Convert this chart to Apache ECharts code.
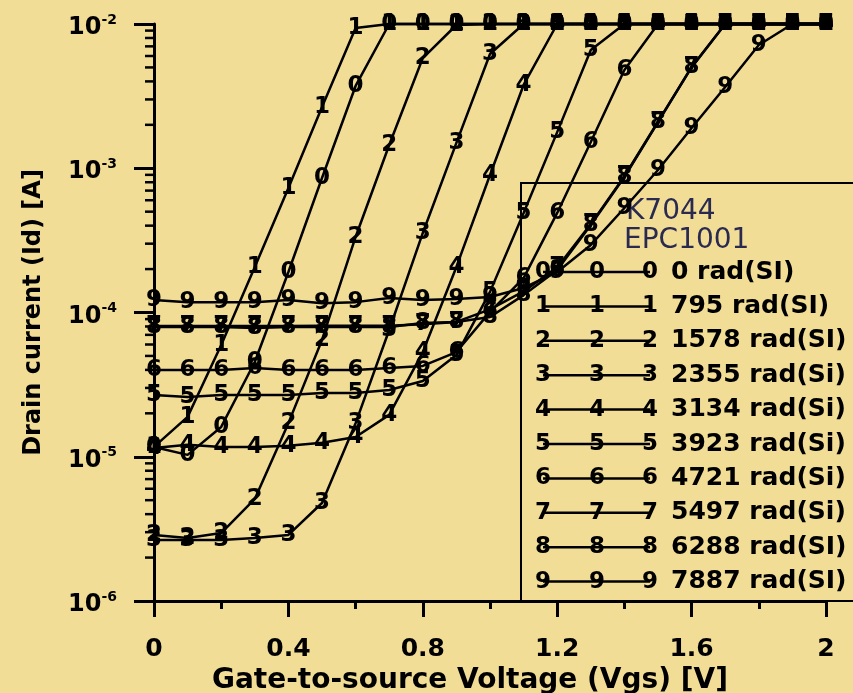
<!DOCTYPE html>
<html>
<head>
<meta charset="utf-8">
<script src="https://cdn.jsdelivr.net/npm/echarts@6/dist/echarts.min.js"></script>
<style>
  html, body { margin: 0; padding: 0; background: #f2dd97; }
  #chart { width: 853px; height: 693px; }
</style>
</head>
<body>
<div id="chart"></div>
<script>
// Gate-to-source voltage sweep (V)
const vgs = [0, 0.1, 0.2, 0.3, 0.4, 0.5, 0.6, 0.7, 0.8, 0.9, 1.0, 1.1, 1.2, 1.3, 1.4, 1.5, 1.6, 1.7, 1.8, 1.9, 2.0];

// Drain current (A) per total dose
const id0 = [1.17e-5, 1.03e-5, 1.61e-5, 4.54e-5, 1.91e-4, 8.56e-4, 3.72e-3, 0.01, 0.01, 0.01, 0.01, 0.01, 0.01, 0.01, 0.01, 0.01, 0.01, 0.01, 0.01, 0.01, 0.01];
const id1 = [1.17e-5, 1.89e-5, 5.95e-5, 2.07e-4, 7.30e-4, 2.66e-3, 9.38e-3, 0.01, 0.01, 0.01, 0.01, 0.01, 0.01, 0.01, 0.01, 0.01, 0.01, 0.01, 0.01, 0.01, 0.01];
const id2 = [2.87e-6, 2.73e-6, 2.96e-6, 5.10e-6, 1.71e-5, 6.45e-5, 3.34e-4, 1.45e-3, 5.81e-3, 9.84e-3, 0.01, 0.01, 0.01, 0.01, 0.01, 0.01, 0.01, 0.01, 0.01, 0.01, 0.01];
const id3 = [2.65e-6, 2.65e-6, 2.65e-6, 2.73e-6, 2.87e-6, 4.78e-6, 1.71e-5, 7.56e-5, 3.56e-4, 1.50e-3, 6.19e-3, 0.01, 0.01, 0.01, 0.01, 0.01, 0.01, 0.01, 0.01, 0.01, 0.01];
const id4 = [1.15e-5, 1.21e-5, 1.17e-5, 1.17e-5, 1.19e-5, 1.25e-5, 1.37e-5, 1.95e-5, 5.32e-5, 2.07e-4, 8.98e-4, 3.78e-3, 0.01, 0.01, 0.01, 0.01, 0.01, 0.01, 0.01, 0.01, 0.01];
const id5 = [2.68e-5, 2.60e-5, 2.68e-5, 2.68e-5, 2.68e-5, 2.77e-5, 2.77e-5, 2.90e-5, 3.35e-5, 5.07e-5, 1.39e-4, 4.90e-4, 1.78e-3, 6.60e-3, 0.01, 0.01, 0.01, 0.01, 0.01, 0.01, 0.01];
const id6 = [3.99e-5, 3.99e-5, 3.99e-5, 4.12e-5, 3.99e-5, 3.99e-5, 3.99e-5, 4.12e-5, 4.26e-5, 5.32e-5, 1.01e-4, 1.73e-4, 4.90e-4, 1.52e-3, 4.80e-3, 0.01, 0.01, 0.01, 0.01, 0.01, 0.01];
const id7 = [8.05e-5, 8.05e-5, 8.05e-5, 8.05e-5, 8.05e-5, 8.10e-5, 8.10e-5, 8.10e-5, 8.30e-5, 8.60e-5, 1.05e-4, 1.40e-4, 2.05e-4, 4.10e-4, 8.80e-4, 2.10e-3, 5.00e-3, 0.01, 0.01, 0.01, 0.01];
const id8 = [7.93e-5, 7.93e-5, 7.93e-5, 7.81e-5, 7.93e-5, 7.93e-5, 7.93e-5, 7.93e-5, 8.45e-5, 8.59e-5, 9.31e-5, 1.32e-4, 1.97e-4, 4.04e-4, 8.70e-4, 2.09e-3, 5.04e-3, 0.01, 0.01, 0.01, 0.01];
const id9 = [1.22e-4, 1.18e-4, 1.18e-4, 1.18e-4, 1.22e-4, 1.16e-4, 1.18e-4, 1.26e-4, 1.22e-4, 1.24e-4, 1.28e-4, 1.48e-4, 1.91e-4, 2.94e-4, 5.30e-4, 9.72e-4, 1.90e-3, 3.66e-3, 7.15e-3, 0.01, 0.01];

const currents = [id0, id1, id2, id3, id4, id5, id6, id7, id8, id9];
const markerDigits = ['0', '1', '2', '3', '4', '5', '6', '7', '8', '9'];
const doseLabels = ['0 rad(SI)', '795 rad(SI)', '1578 rad(SI)', '2355 rad(Si)', '3134 rad(Si)',
                    '3923 rad(Si)', '4721 rad(Si)', '5497 rad(Si)', '6288 rad(SI)', '7887 rad(SI)'];
const legendTitle = ['K7044', 'EPC1001'];

// Minor tick values of the logarithmic current axis (2..9 per decade)
const minorTickValues = [];
[1e-6, 1e-5, 1e-4, 1e-3].forEach(d => { for (let k = 2; k <= 9; k++) minorTickValues.push(k * d); });

const FONT = '"DejaVu Sans", "Liberation Sans", Arial, sans-serif';
const MARK_FONT_SIZE = 23;

const chart = echarts.init(document.getElementById('chart'), null, { renderer: 'canvas' });

const curveSeries = currents.map((arr, s) => ({
  type: 'line',
  name: doseLabels[s],
  data: vgs.map((v, i) => [v, arr[i]]),
  symbol: 'circle',
  symbolSize: 1,
  showAllSymbol: true,
  clip: false,
  z: 5,
  itemStyle: { color: '#000' },
  lineStyle: { color: '#000', width: 2.5 },
  label: {
    show: true,
    position: 'inside',
    formatter: markerDigits[s],
    fontFamily: FONT,
    fontWeight: 'bold',
    fontSize: MARK_FONT_SIZE,
    color: '#000'
  },
  emphasis: { disabled: true },
  animation: false
}));

const minorTickSeries = {
  type: 'custom',
  silent: true,
  clip: false,
  z: 6,
  data: minorTickValues.map(v => [0, v]),
  renderItem: (params, api) => {
    const p = api.coord([0, api.value(1)]);
    return {
      type: 'line',
      shape: { x1: p[0] - 9, y1: p[1], x2: p[0], y2: p[1] },
      style: { stroke: '#000', lineWidth: 2.5 }
    };
  },
  animation: false
};

// Legend block: frame, device names, sample lines with digit markers and dose text
const legendRow0 = 272, legendStep = 34.4;
const sampleX = [543, 597, 650];
const legendGraphics = [
  { type: 'rect', z: 0, shape: { x: 521, y: 183, width: 360, height: 418 },
    style: { fill: 'none', stroke: '#000', lineWidth: 2 } },
  { type: 'text', z: 1, x: 626, y: 212,
    style: { text: legendTitle[0], font: '28px ' + FONT, fill: '#2a2a50', align: 'left', verticalAlign: 'middle', textAlign: 'left', textVerticalAlign: 'middle' } },
  { type: 'text', z: 1, x: 624, y: 241,
    style: { text: legendTitle[1], font: '28px ' + FONT, fill: '#2a2a50', align: 'left', verticalAlign: 'middle', textAlign: 'left', textVerticalAlign: 'middle' } }
];
doseLabels.forEach((lab, i) => {
  const y = legendRow0 + legendStep * i;
  legendGraphics.push({ type: 'line', z: 1, shape: { x1: sampleX[0], y1: y, x2: sampleX[2], y2: y },
    style: { stroke: '#000', lineWidth: 2.5 } });
  sampleX.forEach(x => legendGraphics.push({ type: 'text', z: 2, x: x, y: y,
    style: { text: markerDigits[i], font: 'bold ' + MARK_FONT_SIZE + 'px ' + FONT, fill: '#000', align: 'center', verticalAlign: 'middle', textAlign: 'center', textVerticalAlign: 'middle' } }));
  legendGraphics.push({ type: 'text', z: 2, x: 671, y: y,
    style: { text: lab, font: 'bold 25px ' + FONT, fill: '#000', align: 'left', verticalAlign: 'middle', textAlign: 'left', textVerticalAlign: 'middle' } });
});

chart.setOption({
  backgroundColor: '#f2dd97',
  animation: false,
  grid: { left: 154, right: 27, top: 24, bottom: 92, containLabel: false, outerBoundsMode: 'none' },
  graphic: legendGraphics,
  xAxis: {
    type: 'value',
    min: 0, max: 2, interval: 0.4,
    name: 'Gate-to-source Voltage (Vgs) [V]',
    nameLocation: 'middle',
    nameGap: 61,
    nameTextStyle: { fontFamily: FONT, fontWeight: 'bold', fontSize: 28, color: '#000', padding: [0, 40, 0, 0] },
    axisLine: { show: true, lineStyle: { color: '#000', width: 3 } },
    axisTick: { show: true, inside: false, length: 16, lineStyle: { color: '#000', width: 3 } },
    minorTick: { show: true, splitNumber: 2, length: 8, lineStyle: { color: '#000', width: 3 } },
    splitLine: { show: false },
    axisLabel: { margin: 36, fontFamily: FONT, fontWeight: 'bold', fontSize: 25, color: '#000' }
  },
  yAxis: {
    type: 'log',
    logBase: 10,
    min: 1e-6, max: 1e-2,
    name: 'Drain current (Id) [A]',
    nameLocation: 'middle',
    nameGap: 108,
    nameRotate: 90,
    nameTextStyle: { fontFamily: FONT, fontWeight: 'bold', fontSize: 24, color: '#000' },
    axisLine: { show: true, lineStyle: { color: '#000', width: 3 } },
    axisTick: { show: true, inside: false, length: 20, lineStyle: { color: '#000', width: 3 } },
    minorTick: { show: false },
    splitLine: { show: false },
    axisLabel: {
      margin: 37,
      formatter: v => '{b|10}{s|' + Math.round(Math.log10(v)) + '}',
      rich: {
        b: { fontFamily: FONT, fontWeight: 'bold', fontSize: 24, color: '#000', verticalAlign: 'bottom', lineHeight: 32 },
        s: { fontFamily: FONT, fontWeight: 'bold', fontSize: 14, color: '#000', verticalAlign: 'bottom', lineHeight: 32, padding: [0, 0, 13, 0] }
      }
    }
  },
  series: [minorTickSeries].concat(curveSeries)
});
</script>
</body>
</html>
